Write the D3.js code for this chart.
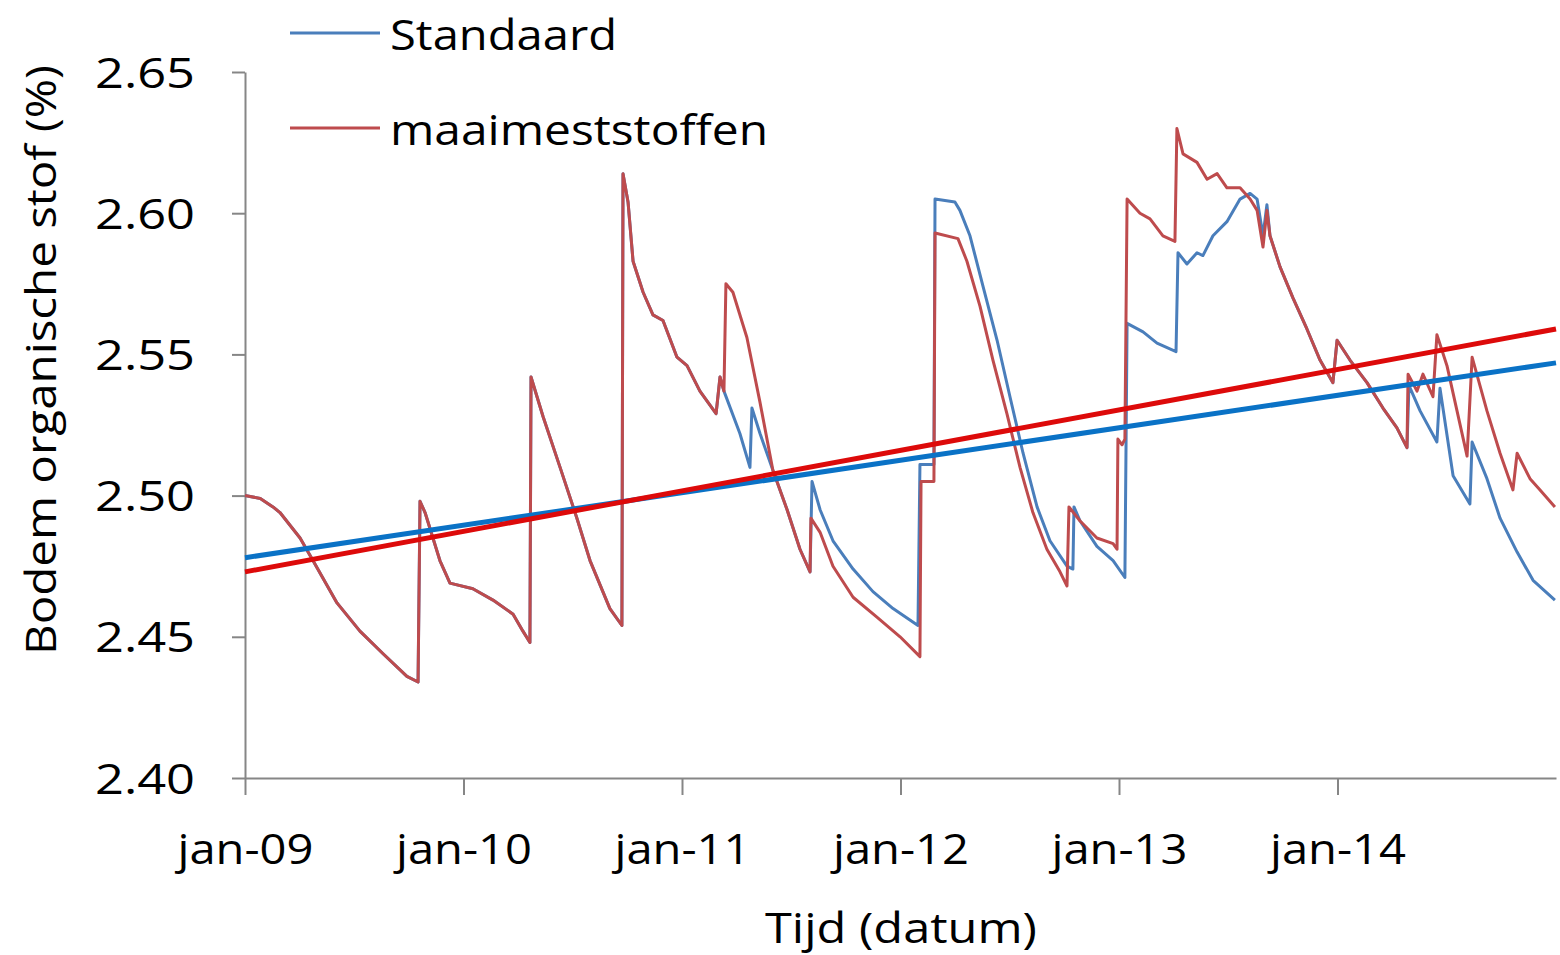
<!DOCTYPE html>
<html><head><meta charset="utf-8">
<script src="https://cdn.jsdelivr.net/npm/d3@7"></script>
<style>
body{margin:0;background:#fff}
text{font-family:'Open Sans','Noto Sans',sans-serif;fill:#000}
</style>
</head><body>
<svg id="c" width="1560" height="955"></svg>
<script>
// ---------- data ----------
const yTicks = [2.40, 2.45, 2.50, 2.55, 2.60, 2.65];
const xTicks = [2009, 2010, 2011, 2012, 2013, 2014];
const xTickLabels = ["jan-09", "jan-10", "jan-11", "jan-12", "jan-13", "jan-14"];
const seriesNames = ["Standaard", "maaimeststoffen"];

// [decimal year, organic matter %]
const shared = [[2009.000,2.500],[2009.070,2.499],[2009.128,2.496],[2009.160,2.494],[2009.252,2.485],[2009.311,2.477],[2009.421,2.462],[2009.526,2.452],[2009.632,2.444],[2009.741,2.436],[2009.792,2.434],[2009.801,2.498],[2009.824,2.494],[2009.892,2.477],[2009.938,2.469],[2010.043,2.467],[2010.135,2.463],[2010.227,2.458],[2010.272,2.452],[2010.304,2.448],[2010.309,2.542],[2010.364,2.528],[2010.442,2.510],[2010.519,2.492],[2010.579,2.477],[2010.670,2.460],[2010.725,2.454],[2010.730,2.614],[2010.753,2.604],[2010.776,2.583],[2010.822,2.572],[2010.867,2.564],[2010.913,2.562],[2010.977,2.549],[2011.023,2.546],[2011.082,2.537],[2011.119,2.533],[2011.156,2.529],[2011.174,2.542],[2011.192,2.537]];

const standaard = shared.concat([[2011.265,2.522],[2011.311,2.510],[2011.320,2.531],[2011.357,2.522],[2011.416,2.509],[2011.481,2.495],[2011.540,2.481],[2011.586,2.473],[2011.595,2.505],[2011.632,2.495],[2011.691,2.484],[2011.783,2.474],[2011.874,2.466],[2011.966,2.460],[2012.080,2.454],[2012.089,2.511],[2012.153,2.511],[2012.158,2.605],[2012.249,2.604],[2012.272,2.601],[2012.318,2.592],[2012.378,2.574],[2012.442,2.555],[2012.501,2.535],[2012.561,2.515],[2012.625,2.496],[2012.684,2.484],[2012.762,2.475],[2012.789,2.474],[2012.794,2.496],[2012.822,2.491],[2012.899,2.482],[2012.973,2.477],[2013.027,2.471],[2013.037,2.561],[2013.110,2.558],[2013.174,2.554],[2013.261,2.551],[2013.270,2.586],[2013.311,2.582],[2013.357,2.586],[2013.384,2.585],[2013.430,2.592],[2013.494,2.597],[2013.554,2.605],[2013.600,2.607],[2013.632,2.605],[2013.659,2.592],[2013.677,2.603],[2013.691,2.592],[2013.737,2.581],[2013.796,2.570],[2013.860,2.559],[2013.920,2.548],[2013.979,2.540],[2013.998,2.555],[2014.057,2.548],[2014.135,2.540],[2014.208,2.531],[2014.272,2.524],[2014.318,2.517],[2014.327,2.539],[2014.378,2.530],[2014.455,2.519],[2014.469,2.538],[2014.529,2.507],[2014.606,2.497],[2014.616,2.519],[2014.684,2.506],[2014.744,2.492],[2014.822,2.480],[2014.895,2.470],[2014.995,2.463]]);

const maaimeststoffen = shared.concat([[2011.201,2.575],[2011.233,2.572],[2011.297,2.556],[2011.357,2.533],[2011.416,2.509],[2011.481,2.495],[2011.540,2.481],[2011.586,2.473],[2011.590,2.492],[2011.632,2.487],[2011.691,2.475],[2011.783,2.464],[2011.892,2.457],[2011.998,2.450],[2012.089,2.443],[2012.094,2.505],[2012.153,2.505],[2012.158,2.593],[2012.263,2.591],[2012.304,2.583],[2012.364,2.567],[2012.423,2.548],[2012.487,2.529],[2012.547,2.510],[2012.606,2.494],[2012.670,2.481],[2012.730,2.473],[2012.762,2.468],[2012.771,2.496],[2012.822,2.491],[2012.899,2.485],[2012.973,2.483],[2012.991,2.481],[2012.995,2.520],[2013.014,2.518],[2013.027,2.520],[2013.037,2.605],[2013.096,2.600],[2013.142,2.598],[2013.201,2.592],[2013.256,2.590],[2013.265,2.630],[2013.293,2.621],[2013.357,2.618],[2013.403,2.612],[2013.449,2.614],[2013.494,2.609],[2013.554,2.609],[2013.600,2.605],[2013.632,2.601],[2013.659,2.588],[2013.677,2.601],[2013.691,2.592],[2013.737,2.581],[2013.796,2.570],[2013.860,2.559],[2013.920,2.548],[2013.979,2.540],[2013.998,2.555],[2014.057,2.548],[2014.135,2.540],[2014.208,2.531],[2014.272,2.524],[2014.318,2.517],[2014.323,2.543],[2014.364,2.537],[2014.391,2.543],[2014.437,2.535],[2014.455,2.557],[2014.501,2.546],[2014.547,2.530],[2014.593,2.514],[2014.616,2.549],[2014.684,2.530],[2014.744,2.515],[2014.803,2.502],[2014.822,2.515],[2014.881,2.506],[2014.927,2.502],[2014.995,2.496]]);

// linear trend lines (start / end)
const trendStandaard = [[2009, 2.478], [2015, 2.547]];
const trendMaai = [[2009, 2.473], [2015, 2.559]];

// ---------- drawing ----------
const svg = d3.select("#c");
const x = d3.scaleLinear().domain([2009, 2015]).range([245, 1556]);
const y = d3.scaleLinear().domain([2.40, 2.65]).range([778, 72]);
const FS = 42;
const fit = (sel, w) => sel.attr("textLength", w).attr("lengthAdjust", "spacingAndGlyphs");

// y axis
const ya = svg.append("g").attr("transform", "translate(245,0)")
  .call(d3.axisLeft(y).tickValues(yTicks).tickSize(13).tickSizeOuter(0).tickPadding(37).tickFormat(d3.format(".2f")));
ya.select(".domain").attr("stroke", "#868686").attr("stroke-width", 2);
ya.selectAll(".tick line").attr("stroke", "#868686").attr("stroke-width", 2);
ya.selectAll(".tick text").attr("font-size", FS).attr("font-family", "'Open Sans',sans-serif")
  .attr("dy", null).attr("y", 15).call(fit, 100);

// x axis
const xa = svg.append("g").attr("transform", "translate(0,778)")
  .call(d3.axisBottom(x).tickValues(xTicks).tickSize(17).tickSizeOuter(0).tickFormat((d, i) => xTickLabels[i]));
xa.select(".domain").attr("stroke", "#868686").attr("stroke-width", 2);
xa.selectAll(".tick line").attr("stroke", "#868686").attr("stroke-width", 2);
xa.selectAll(".tick text").attr("font-size", FS).attr("font-family", "'Open Sans',sans-serif")
  .attr("dy", null).attr("y", 86).call(fit, 136);

// axis titles
svg.append("text").attr("x", 901).attr("y", 943).attr("text-anchor", "middle")
  .attr("font-size", FS).text("Tijd (datum)").call(fit, 272);
svg.append("text").attr("transform", "translate(56,360) rotate(-90)").attr("text-anchor", "middle")
  .attr("font-size", FS).text("Bodem organische stof (%)").call(fit, 590);

// series
const line = d3.line().x(d => x(d[0])).y(d => y(d[1]));
svg.append("path").datum(standaard).attr("d", line).attr("fill", "none")
  .attr("stroke", "#4A7EBB").attr("stroke-width", 3).attr("stroke-linejoin", "round");
svg.append("path").datum(maaimeststoffen).attr("d", line).attr("fill", "none")
  .attr("stroke", "#BE4B4D").attr("stroke-width", 3).attr("stroke-linejoin", "round");

// trend lines
svg.append("path").datum(trendStandaard).attr("d", line).attr("fill", "none")
  .attr("stroke", "#0A72C6").attr("stroke-width", 5);
svg.append("path").datum(trendMaai).attr("d", line).attr("fill", "none")
  .attr("stroke", "#DD0A0A").attr("stroke-width", 5);

// legend
const legColors = ["#4A7EBB", "#BE4B4D"];
const legY = [33, 128];
const legW = [227, 378];
seriesNames.forEach((n, i) => {
  svg.append("line").attr("x1", 290).attr("x2", 380).attr("y1", legY[i]).attr("y2", legY[i])
    .attr("stroke", legColors[i]).attr("stroke-width", 3);
  svg.append("text").attr("x", 390).attr("y", legY[i] + 17).attr("font-size", FS)
    .text(n).call(fit, legW[i]);
});
</script>
</body></html>
